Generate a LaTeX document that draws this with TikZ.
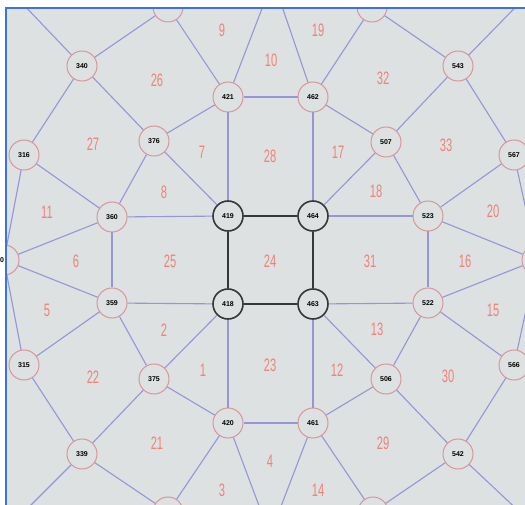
\documentclass[tikz,border=0pt]{standalone}
\usepackage{fontspec}
\setmainfont{Liberation Sans}
\definecolor{bgc}{RGB}{221,225,225}
\definecolor{edgec}{RGB}{150,150,215}
\definecolor{nodeborder}{RGB}{215,150,155}
\definecolor{facec}{RGB}{238,130,120}
\definecolor{darkc}{RGB}{55,55,55}
\definecolor{framec}{RGB}{60,115,220}
\begin{document}
\begin{tikzpicture}[x=1pt,y=-1pt,
  vnode/.style={circle, draw=nodeborder, fill=bgc, line width=1pt, minimum size=30pt, inner sep=0pt, font=\fontsize{7}{7}\selectfont\bfseries},
  cnode/.style={vnode, draw=darkc, line width=1.6pt},
  edge/.style={draw=edgec, line width=1.1pt},
  cedge/.style={draw=darkc, line width=1.6pt},
  face/.style={text=facec, inner sep=0pt, font=\fontsize{18}{18}\selectfont, xscale=0.62}]
\useasboundingbox (0,0) rectangle (525,505);
\fill[white] (0,0) rectangle (525,505);
\fill[bgc] (6,8) rectangle (525,505);
\begin{scope}
\clip (6,8) rectangle (525,505);
% outside coordinates
\coordinate (ct) at (273,-20);
\coordinate (cb) at (270,535);
\coordinate (cnw) at (0,-20);
\coordinate (cne) at (545,-23);
\coordinate (csw) at (0,536);
\coordinate (cse) at (540,531);
% nodes
\node[vnode] (T1) at (168,7) {};
\node[vnode] (T2) at (372,7) {};
\node[vnode] (B1) at (168,512) {};
\node[vnode] (B2) at (373,512) {};
\node[vnode] (L) at (4,260) {};
\node[vnode] (R) at (537,260) {};
\node[vnode] (n340) at (82,66) {340};
\node[vnode] (n421) at (228,97) {421};
\node[vnode] (n376) at (154,141) {376};
\node[vnode] (n316) at (24,155) {316};
\node[vnode] (n360) at (112,217) {360};
\node[cnode] (n419) at (228,216) {419};
\node[vnode] (n462) at (313,97) {462};
\node[vnode] (n543) at (458,66) {543};
\node[vnode] (n507) at (386,142) {507};
\node[vnode] (n567) at (514,155) {567};
\node[cnode] (n464) at (313,216) {464};
\node[vnode] (n523) at (428,216) {523};
\node[vnode] (n359) at (112,303) {359};
\node[cnode] (n418) at (228,304) {418};
\node[vnode] (n315) at (24,365) {315};
\node[vnode] (n375) at (154,379) {375};
\node[vnode] (n420) at (228,423) {420};
\node[vnode] (n339) at (82,454) {339};
\node[cnode] (n463) at (313,304) {463};
\node[vnode] (n522) at (428,303) {522};
\node[vnode] (n506) at (386,379) {506};
\node[vnode] (n566) at (514,365) {566};
\node[vnode] (n461) at (313,423) {461};
\node[vnode] (n542) at (458,454) {542};
% edges
\draw[cedge] (n419) -- (n464);
\draw[cedge] (n464) -- (n463);
\draw[cedge] (n463) -- (n418);
\draw[cedge] (n418) -- (n419);
\foreach \a/\b in {n419/n421, n421/n462, n462/n464,
  n419/n360, n360/n359, n359/n418,
  n418/n420, n420/n461, n461/n463,
  n464/n523, n523/n522, n522/n463,
  n419/n376, n376/n421, n376/n360, n376/n340,
  n421/T1, n421/ct, n462/ct, n462/T2,
  T2/n543, n543/cne, n543/n507, n543/n567,
  n507/n462, n507/n464, n507/n523,
  n523/n567, n523/R, n567/R,
  n340/cnw, n340/T1, n340/n316, n316/n360, n316/L, n360/L, n359/L, L/n315,
  n315/n359, n315/n339, n359/n375, n375/n418, n375/n420, n375/n339,
  n339/B1, n339/csw, n420/B1, n420/cb, n461/cb, n461/n506, n461/B2,
  n506/n463, n506/n522, n506/n542,
  n522/n566, n522/R, n566/n542, n566/R, n542/B2, n542/cse}
  \draw[edge] (\a) -- (\b);
% faces
\foreach \t/\x/\y in {9/222/30, 19/318/30, 10/271/60, 26/157/80, 32/383/78,
  27/93/144, 7/202/152, 28/270/156, 17/338/152, 33/446/145,
  11/47/212, 8/164/192, 18/376/191, 20/493/211,
  6/76/261, 25/170/261, 24/270/261, 31/370/261, 16/465/261,
  5/47/310, 2/164/330, 13/377/329, 15/493/310,
  22/93/377, 1/203/370, 23/270/365, 12/337/370, 30/448/376,
  21/157/443, 4/270/461, 29/383/443, 3/222/490, 14/318/490}
  \node[face] (f\t) at (\x,\y) {\t};
\end{scope}
\node[font=\fontsize{7}{7}\selectfont\bfseries, inner sep=0pt] (lzero) at (2,260) {0};
\draw[framec, line width=1.6pt] (525,8) -- (6,8) -- (6,505);
\end{tikzpicture}
\end{document}
